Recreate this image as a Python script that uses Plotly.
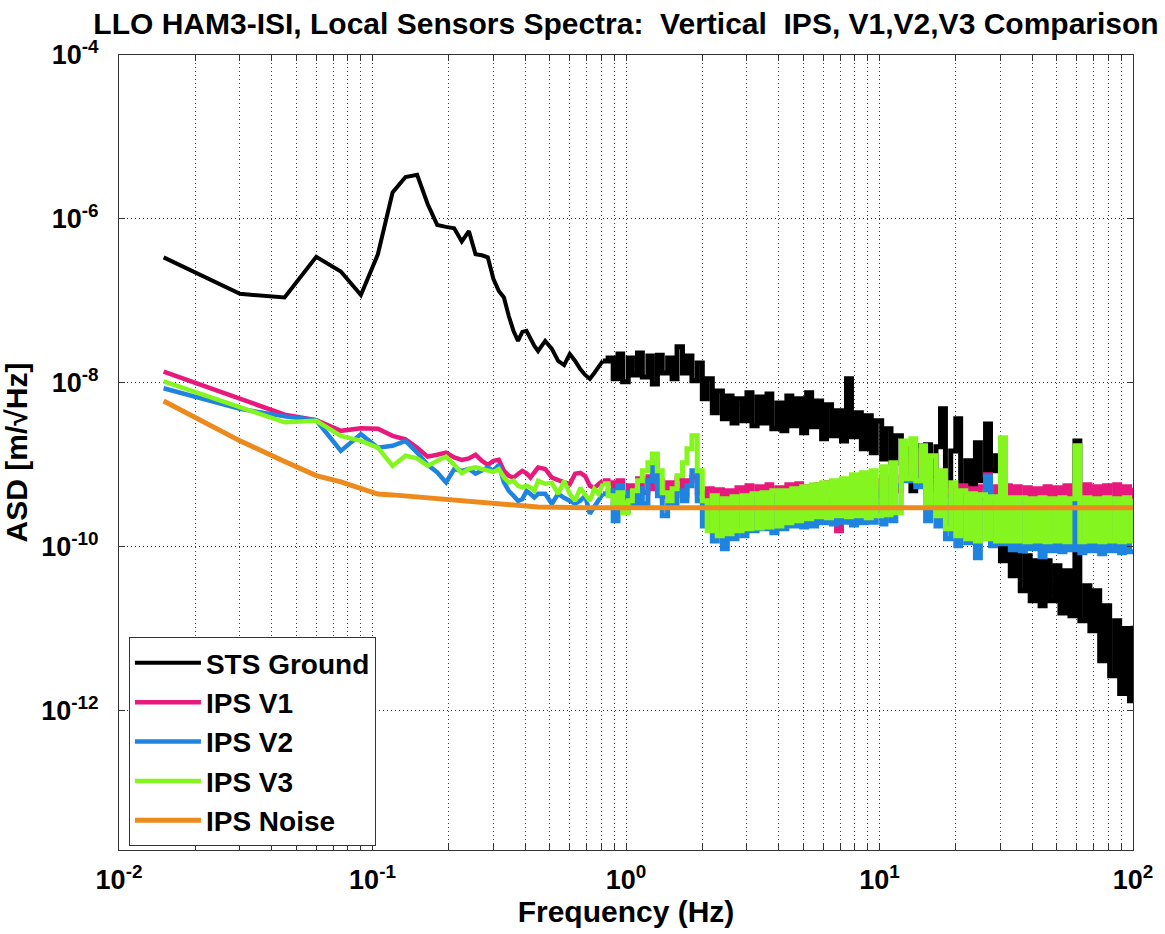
import plotly.graph_objects as go

# ---------------- data ----------------
freq_low = [
    0.015, 0.030, 0.045, 0.060, 0.075, 0.090, 0.105, 0.120, 0.135, 0.150,
    0.165, 0.180, 0.195, 0.210, 0.225, 0.240, 0.255, 0.270, 0.285, 0.300,
    0.315, 0.330, 0.345, 0.360, 0.375, 0.390, 0.405, 0.420, 0.435, 0.450,
    0.48, 0.51, 0.54, 0.57, 0.60, 0.63, 0.66, 0.69, 0.72, 0.75,
    0.78, 0.81,
]
freq_band = [
    0.85, 0.89, 0.93, 0.97, 1.02, 1.06, 1.11, 1.16, 1.22, 1.27,
    1.33, 1.39, 1.46, 1.52, 1.59, 1.67, 1.74, 1.82, 1.91, 2.00,
    2.09, 2.19, 2.29, 2.40, 2.51, 2.62, 2.74, 2.87, 3.00, 3.14,
    3.29, 3.44, 3.60, 3.76, 3.94, 4.12, 4.31, 4.51, 4.72, 4.93,
    5.16, 5.40, 5.65, 5.91, 6.18, 6.47, 6.77, 7.08, 7.41, 7.75,
    8.11, 8.48, 8.87, 9.28, 9.71, 10.2, 10.6, 11.1, 11.6, 12.2,
    12.7, 13.3, 13.9, 14.6, 15.2, 15.9, 16.7, 17.4, 18.2, 19.1,
    20.0, 20.9, 21.9, 22.9, 23.9, 25.0, 26.2, 27.4, 28.7, 30.0,
    31.4, 32.8, 34.3, 35.9, 37.6, 39.3, 41.1, 43.0, 45.0, 47.1,
    49.3, 51.5, 53.9, 56.4, 59.0, 61.7, 64.6, 67.6, 70.7, 73.9,
    77.3, 80.9, 84.7, 88.6, 92.6, 96.9, 100.0,
]
freq = freq_low + freq_band

sts_ground = [
    3.4e-7, 1.22e-7, 1.1e-7, 3.45e-7, 2.28e-7, 1.18e-7, 3.7e-7, 2.1e-6, 3.25e-6, 3.45e-6,
    1.52e-6, 8.45e-7, 8.0e-7, 7.7e-7, 5.3e-7, 7.1e-7, 3.7e-7, 3.6e-7, 3.4e-7, 1.85e-7,
    1.32e-7, 1.1e-7, 6.5e-8, 4.3e-8, 3.25e-8, 4.19e-8, 4.31e-8, 3.44e-8, 2.83e-8, 2.45e-8,
    3.25e-8, 2.6e-8, 1.85e-8, 1.65e-8, 2.25e-8, 1.85e-8, 1.47e-8, 1.25e-8, 1.12e-8, 1.32e-8,
    1.56e-8, 1.85e-8,
    2.01e-8, 1.12e-8, 2.25e-8, 1.03e-8, 2.01e-8, 1.25e-8, 2.31e-8, 1.18e-8, 2.13e-8, 9.7e-9,
    2.18e-8, 1.32e-8, 2.01e-8, 1.12e-8, 2.75e-8, 1.32e-8, 2.13e-8, 1.06e-8, 1.75e-8, 6.38e-9,
    1.12e-8, 4.31e-9, 7.98e-9, 3.64e-9, 6.93e-9, 3.25e-9, 6.38e-9, 3.44e-9, 7.55e-9, 2.99e-9,
    6.74e-9, 3.25e-9, 7.34e-9, 2.75e-9, 5.7e-9, 2.6e-9, 6.93e-9, 2.99e-9, 6.38e-9, 2.46e-9,
    7.55e-9, 2.91e-9, 6.03e-9, 2.08e-9, 5.39e-9, 2.26e-9, 4.56e-9, 1.96e-9, 1.12e-8, 2.2e-9,
    4.31e-9, 1.57e-9, 3.96e-9, 1.4e-9, 3.44e-9, 1.18e-9, 2.75e-9, 1.06e-9, 2.26e-9, 8.45e-10,
    1.57e-9, 4.82e-10, 1.71e-9, 6.75e-10, 1.76e-9, 6.75e-10, 1.66e-9, 4.82e-9, 5.55e-10, 1.48e-9,
    3.64e-9, 5.1e-10, 1.12e-9, 5.24e-10, 1.86e-9, 6.38e-10, 3.16e-9, 8.45e-10, 1.29e-9, 6.74e-11,
    1.03e-10, 4.42e-11, 9.46e-11, 2.9e-11, 7.76e-11, 2.19e-11, 6.74e-11, 1.91e-11, 6.74e-11, 2.19e-11,
    5.86e-11, 1.56e-11, 5.09e-11, 1.44e-11, 1.96e-9, 1.25e-11, 3.34e-11, 9.46e-12, 2.9e-11, 4.07e-12,
    1.91e-11, 2.67e-12, 1.25e-11, 1.62e-12, 1.01e-11, 1.32e-12, 1.09e-11,
]

ips_v1 = [
    1.37e-8, 6.5e-9, 4.1e-9, 3.5e-9, 2.6e-9, 2.8e-9, 2.75e-9, 2.26e-9, 2.05e-9, 1.62e-9,
    1.26e-9, 1.33e-9, 1.41e-9, 1.23e-9, 1.15e-9, 1.2e-9, 1.33e-9, 1.12e-9, 1.0e-9, 1.12e-9,
    1.15e-9, 8.45e-10, 7.35e-10, 7.0e-10, 7.6e-10, 8.45e-10, 7.9e-10, 7.0e-10, 8.1e-10, 9.3e-10,
    8.9e-10, 7.0e-10, 6.5e-10, 6.1e-10, 5.8e-10, 7.8e-10, 8.0e-10, 7.3e-10, 5.55e-10, 5.24e-10,
    5.9e-10, 6.38e-10,
    6.03e-10, 4.19e-10, 6.38e-10, 3.96e-10, 5.55e-10, 3.85e-10, 6.75e-10, 4.56e-10, 7.14e-10, 5.1e-10,
    6.38e-10, 4.07e-10, 6.03e-10, 4.19e-10, 6.75e-10, 4.31e-10, 6.38e-10, 7.14e-10, 4.56e-10, 3.64e-10,
    5.1e-10, 3.44e-10, 4.96e-10, 3.35e-10, 4.82e-10, 3.16e-10, 5.24e-10, 3.44e-10, 5.55e-10, 3.64e-10,
    5.39e-10, 3.35e-10, 5.7e-10, 3.54e-10, 5.24e-10, 3.25e-10, 5.7e-10, 3.64e-10, 5.87e-10, 3.44e-10,
    5.39e-10, 3.16e-10, 5.7e-10, 3.35e-10, 6.03e-10, 5.7e-10, 1.57e-10, 5.55e-10, 3.64e-10, 5.87e-10,
    3.85e-10, 6.2e-10, 3.96e-10, 6.38e-10, 4.19e-10, 6.75e-10, 4.43e-10, 7.14e-10, 4.82e-10, 9.73e-10,
    7.35e-10, 1.18e-9, 7.99e-10, 1.18e-9, 6.75e-10, 8.45e-10, 5.1e-10, 6.75e-10, 4.19e-10, 5.7e-10,
    3.85e-10, 5.55e-10, 3.64e-10, 5.1e-10, 3.44e-10, 5.39e-10, 7.55e-10, 3.85e-10, 5.39e-10, 3.64e-10,
    5.55e-10, 3.44e-10, 5.39e-10, 3.54e-10, 5.24e-10, 3.35e-10, 5.1e-10, 3.44e-10, 5.39e-10, 3.64e-10,
    5.24e-10, 3.35e-10, 5.55e-10, 3.54e-10, 5.39e-10, 3.44e-10, 5.7e-10, 3.64e-10, 5.39e-10, 3.44e-10,
    5.55e-10, 3.54e-10, 5.7e-10, 3.64e-10, 5.39e-10, 3.44e-10, 5.24e-10,
]

ips_v2 = [
    8.6e-9, 4.82e-9, 3.9e-9, 3.5e-9, 1.48e-9, 2.37e-9, 1.62e-9, 1.71e-9, 1.96e-9, 1.41e-9,
    1.0e-9, 8.1e-10, 6.1e-10, 8.9e-10, 8.45e-10, 8.9e-10, 7.8e-10, 8.45e-10, 9.3e-10, 8.45e-10,
    1.0e-9, 6.1e-10, 4.8e-10, 4.2e-10, 3.64e-10, 3.8e-10, 4.8e-10, 4.4e-10, 4.0e-10, 4.43e-10,
    4.43e-10, 3.35e-10, 4.43e-10, 3.96e-10, 3.64e-10, 3.35e-10, 3.64e-10, 4.19e-10, 2.53e-10, 3.08e-10,
    3.64e-10, 4.43e-10,
    4.82e-10, 2.08e-10, 5.55e-10, 2.75e-10, 4.56e-10, 3.16e-10, 5.1e-10, 3.35e-10, 6.38e-10, 1.06e-9,
    4.19e-10, 2.39e-10, 3.64e-10, 3.16e-10, 4.82e-10, 3.64e-10, 5.55e-10, 8.45e-10, 3.64e-10, 1.8e-10,
    3.16e-10, 1.18e-10, 2.75e-10, 9.46e-11, 3.16e-10, 1.25e-10, 3.35e-10, 1.36e-10, 3.64e-10, 1.57e-10,
    3.44e-10, 1.66e-10, 3.64e-10, 1.48e-10, 3.85e-10, 1.66e-10, 3.64e-10, 1.8e-10, 3.85e-10, 1.75e-10,
    3.64e-10, 1.8e-10, 3.85e-10, 1.96e-10, 3.64e-10, 1.9e-10, 3.96e-10, 2.0e-10, 4.19e-10, 1.85e-10,
    4.43e-10, 1.96e-10, 4.56e-10, 2.0e-10, 4.82e-10, 1.9e-10, 5.1e-10, 2.08e-10, 5.55e-10, 7.35e-10,
    6.38e-10, 8.45e-10, 5.39e-10, 8.45e-10, 2.08e-10, 6.38e-10, 1.8e-10, 5.55e-10, 1.25e-10, 4.19e-10,
    1.03e-10, 3.85e-10, 1.12e-10, 3.64e-10, 7.34e-11, 3.85e-10, 7.14e-10, 1.03e-10, 3.64e-10, 1.09e-10,
    3.44e-10, 9.2e-11, 3.64e-10, 8.93e-11, 3.44e-10, 9.46e-11, 3.64e-10, 7.55e-11, 3.44e-10, 8.93e-11,
    3.64e-10, 8.69e-11, 3.35e-10, 9.2e-11, 3.64e-10, 8.45e-11, 3.44e-10, 8.93e-11, 3.64e-10, 8.21e-11,
    3.44e-10, 8.93e-11, 3.64e-10, 8.45e-11, 3.35e-10, 8.69e-11, 8.93e-11,
]

ips_v3 = [
    1.04e-8, 5.09e-9, 3.3e-9, 3.44e-9, 2.26e-9, 1.96e-9, 1.62e-9, 9.7e-10, 1.29e-9, 1.2e-9,
    9.7e-10, 1.12e-9, 1.26e-9, 1.0e-9, 7.9e-10, 8.9e-10, 9.3e-10, 8.9e-10, 8.45e-10, 8.2e-10,
    8.9e-10, 7.0e-10, 6.1e-10, 6.4e-10, 5.55e-10, 5.3e-10, 5.55e-10, 5.3e-10, 4.8e-10, 6.38e-10,
    5.87e-10, 6.03e-10, 4.43e-10, 6.38e-10, 4.43e-10, 3.64e-10, 5.24e-10, 4.43e-10, 3.64e-10, 5.1e-10,
    4.43e-10, 5.87e-10,
    4.19e-10, 3.16e-10, 4.56e-10, 2.6e-10, 3.64e-10, 4.82e-10, 6.38e-10, 8.45e-10, 1.06e-9, 1.36e-9,
    8.45e-10, 4.56e-10, 3.64e-10, 5.1e-10, 7.35e-10, 1.06e-9, 1.57e-9, 2.26e-9, 8.45e-10, 3.64e-10,
    1.57e-10, 4.19e-10, 1.36e-10, 3.85e-10, 1.44e-10, 4.07e-10, 1.57e-10, 4.19e-10, 1.66e-10, 4.43e-10,
    1.7e-10, 4.56e-10, 1.75e-10, 4.82e-10, 1.8e-10, 4.82e-10, 1.96e-10, 5.1e-10, 2.08e-10, 5.39e-10,
    2.2e-10, 5.7e-10, 2.32e-10, 6.03e-10, 2.26e-10, 6.38e-10, 2.39e-10, 6.75e-10, 2.32e-10, 7.55e-10,
    2.39e-10, 7.99e-10, 2.26e-10, 8.45e-10, 2.39e-10, 9.46e-10, 2.46e-10, 1.06e-9, 2.6e-10, 1.96e-9,
    6.75e-10, 2.08e-9, 6.38e-10, 1.71e-9, 3.16e-10, 1.29e-9, 2.39e-10, 8.45e-10, 1.66e-10, 6.03e-10,
    1.36e-10, 4.82e-10, 1.25e-10, 4.43e-10, 1.18e-10, 4.31e-10, 1.25e-10, 4.07e-10, 1.18e-10, 2.14e-9,
    1.18e-10, 3.96e-10, 1.18e-10, 3.96e-10, 1.15e-10, 3.85e-10, 1.18e-10, 3.96e-10, 1.15e-10, 3.85e-10,
    1.18e-10, 3.96e-10, 1.15e-10, 3.85e-10, 1.71e-9, 1.15e-10, 3.96e-10, 1.18e-10, 3.85e-10, 1.15e-10,
    3.96e-10, 1.18e-10, 3.85e-10, 1.15e-10, 3.96e-10, 1.18e-10, 3.85e-10,
]

noise_freq = [0.015, 0.030, 0.045, 0.060, 0.075, 0.090, 0.105, 0.120, 0.150,
              0.20, 0.30, 0.45, 0.70, 1.0, 10.0, 100.0]
ips_noise = [6.0e-9, 1.96e-9, 1.1e-9, 7.4e-10, 6.2e-10, 5.2e-10, 4.4e-10, 4.3e-10, 4.05e-10,
             3.8e-10, 3.35e-10, 3.05e-10, 3.0e-10, 3.0e-10, 3.0e-10, 3.0e-10]

x_major_vals = [0.01, 0.1, 1, 10, 100]
x_major_text = ["10<sup>-2</sup>", "10<sup>-1</sup>", "10<sup>0</sup>",
                "10<sup>1</sup>", "10<sup>2</sup>"]
x_minor_vals = [0.02, 0.03, 0.04, 0.05, 0.06, 0.07, 0.08, 0.09,
                0.2, 0.3, 0.4, 0.5, 0.6, 0.7, 0.8, 0.9,
                2, 3, 4, 5, 6, 7, 8, 9,
                20, 30, 40, 50, 60, 70, 80, 90]
y_tick_vals = [1e-12, 1e-10, 1e-8, 1e-6, 1e-4]
y_tick_text = ["10<sup>-12</sup>", "10<sup>-10</sup>", "10<sup>-8</sup>",
               "10<sup>-6</sup>", "10<sup>-4</sup>"]

series = [
    ("STS Ground", sts_ground, "#000000", 4),
    ("IPS V1", ips_v1, "#E8197D", 4.5),
    ("IPS V2", ips_v2, "#1F83E0", 4.5),
    ("IPS V3", ips_v3, "#84F51E", 4.5),
]

FONT = "Liberation Sans, Arial, Helvetica, sans-serif"
N_LOW = len(freq_low)

fig = go.Figure()
for name, vals, color, width in series:
    # smooth low-frequency part
    fig.add_trace(go.Scatter(x=freq[:N_LOW], y=vals[:N_LOW], mode="lines", name=name,
                             legendgroup=name, line=dict(color=color, width=width)))
    # dense, noisy part drawn as steps (fills like the original dense spectrum)
    fig.add_trace(go.Scatter(x=freq[N_LOW - 1:], y=vals[N_LOW - 1:], mode="lines", name=name,
                             legendgroup=name, showlegend=False,
                             line=dict(color=color, width=5, shape="hv")))
fig.add_trace(go.Scatter(x=noise_freq, y=ips_noise, mode="lines", name="IPS Noise",
                         line=dict(color="#EC8A1E", width=5)))

W, H = 1165, 934
fig.update_layout(
    width=W, height=H,
    margin=dict(l=119, r=W - 1135, t=55, b=H - 851, pad=0),
    paper_bgcolor="white", plot_bgcolor="white",
    font=dict(family=FONT, color="black", weight="bold"),
    title=dict(text="LLO HAM3-ISI, Local Sensors Spectra:\u00a0 Vertical\u00a0 IPS, V1,V2,V3 Comparison",
               x=0.5, xref="paper", xanchor="center",
               y=1 - 23 / H, yref="container", yanchor="middle",
               font=dict(size=30, family=FONT, weight="bold", color="black")),
    showlegend=True,
    legend=dict(x=0.0098, y=0.005, xanchor="left", yanchor="bottom",
                bgcolor="white", bordercolor="#333", borderwidth=1,
                font=dict(size=28, family=FONT, weight="bold", color="black"),
                itemwidth=66, tracegroupgap=0),
)

fig.update_xaxes(
    type="log", range=[-2, 2],
    tickmode="array", tickvals=x_major_vals, ticktext=x_major_text,
    ticks="inside", ticklen=6, tickcolor="#333", tickwidth=1,
    showline=True, linecolor="#333", linewidth=1, mirror="ticks",
    showgrid=True, gridcolor="#333", gridwidth=1, griddash="1px,3px",
    minor=dict(tickmode="array", tickvals=x_minor_vals, ticks="inside", ticklen=6,
               tickcolor="#333", tickwidth=1, showgrid=True, gridcolor="#444",
               gridwidth=1, griddash="1px,3px"),
    zeroline=False,
    tickfont=dict(size=27, family=FONT, weight="bold", color="black"),
    ticklabelstandoff=6,
    title=dict(text="Frequency (Hz)", standoff=6,
               font=dict(size=30, family=FONT, weight="bold", color="black")),
)
fig.update_yaxes(
    type="log", range=[-13.699, -4],
    tickmode="array", tickvals=y_tick_vals, ticktext=y_tick_text,
    ticks="inside", ticklen=6, tickcolor="#333", tickwidth=1,
    showline=True, linecolor="#333", linewidth=1, mirror="ticks",
    showgrid=True, gridcolor="#333", gridwidth=1, griddash="1px,3px",
    zeroline=False,
    tickfont=dict(size=27, family=FONT, weight="bold", color="black"),
    ticklabelstandoff=14,
    title=dict(text="ASD [m/\u221aHz]", standoff=8,
               font=dict(size=30, family=FONT, weight="bold", color="black")),
)

# remove the page's default 8px body margin so the figure sits at the window origin
fig.write_html("out.html", config={"displayModeBar": False},
               post_script="document.body.style.margin='0px';")
